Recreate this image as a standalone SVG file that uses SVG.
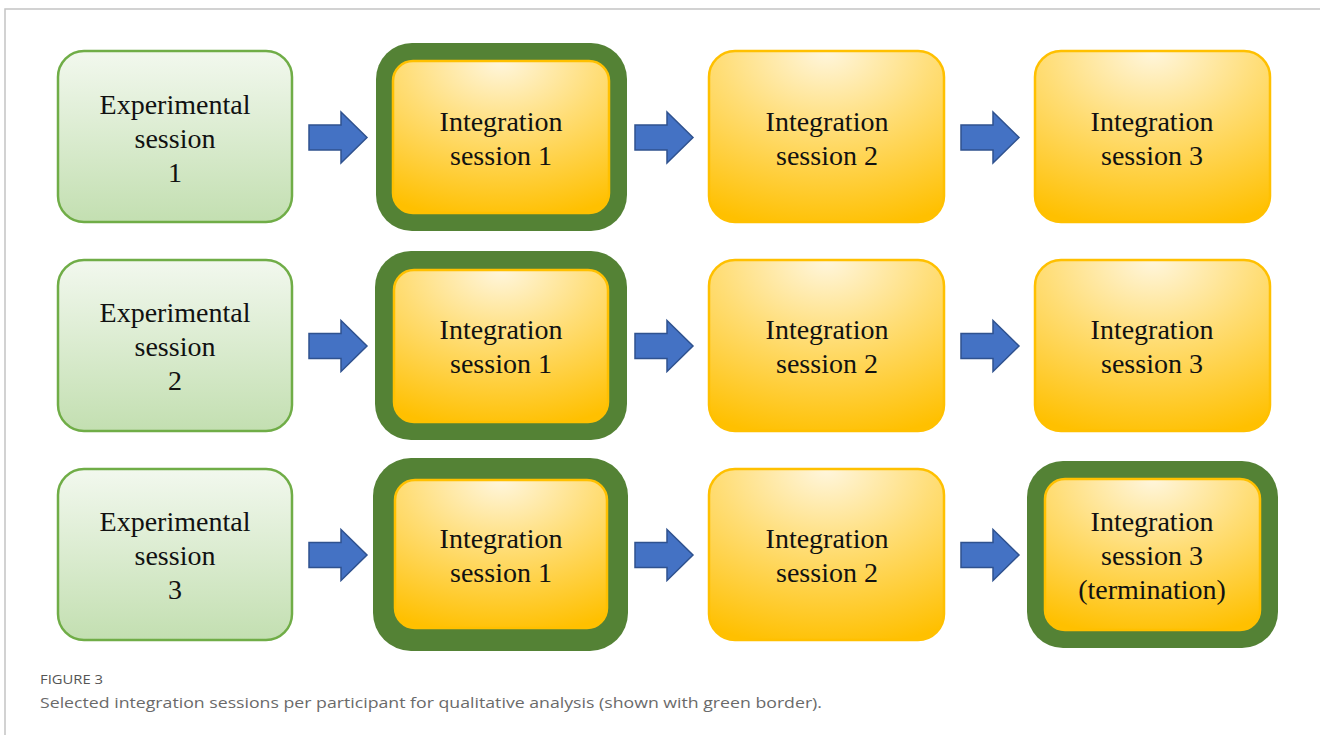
<svg xmlns="http://www.w3.org/2000/svg" width="1320" height="735" viewBox="0 0 1320 735">
<defs>
  <linearGradient id="gGreen" x1="0" y1="0" x2="0" y2="1">
    <stop offset="0" stop-color="#F2F8EE"/>
    <stop offset="1" stop-color="#C3DFB1"/>
  </linearGradient>
  <radialGradient id="gYellow" cx="0.5" cy="0" r="1.05" fx="0.5" fy="0">
    <stop offset="0" stop-color="#FFF6DD"/>
    <stop offset="0.45" stop-color="#FFDD75"/>
    <stop offset="1" stop-color="#FFC000"/>
  </radialGradient>
  <path id="arrow" d="M0,-12.5 H32 V-25.5 L58,0 L32,25.5 V12.5 H0 Z"/>
</defs>
<style>
  .exp { fill: url(#gGreen); stroke: #70AD47; stroke-width: 2.5; }
  .yel { fill: url(#gYellow); stroke: #FFC000; stroke-width: 2.5; }
  .sel { fill: #548235; }
  .lbl { font-family: "Liberation Serif", "Times New Roman", serif; font-size: 28px; fill: #111; text-anchor: middle; }
  .arr { fill: #4472C4; stroke: #2F528F; stroke-width: 1.5; }
  .frame { stroke: #C4C4C4; stroke-width: 1.5; fill: none; }
  .figlbl { font-family: "Open Sans", "Liberation Sans", sans-serif; font-size: 12px; fill: #555; }
  .cap { font-family: "Open Sans", "Liberation Sans", sans-serif; font-size: 15px; fill: #6a6a6a; }
</style>
<rect x="0" y="0" width="1320" height="735" fill="#FFFFFF"/>
<path class="frame" d="M5,735 V9 H1320"/>

<!-- Row 1 -->
<g id="exp1"><rect class="exp" x="58" y="51" width="234" height="171" rx="26"/>
  <text class="lbl" x="175" y="114">Experimental</text><text class="lbl" x="175" y="148">session</text><text class="lbl" x="175" y="182">1</text></g>
<g id="int1_1"><rect class="sel" x="376" y="43" width="251" height="188" rx="36"/>
  <rect class="yel" x="393" y="61" width="216" height="152" rx="20" stroke="none"/>
  <text class="lbl" x="501" y="131">Integration</text><text class="lbl" x="501" y="165">session 1</text></g>
<g id="int1_2"><rect class="yel" x="709" y="51" width="235" height="171" rx="26"/>
  <text class="lbl" x="827" y="131">Integration</text><text class="lbl" x="827" y="165">session 2</text></g>
<g id="int1_3"><rect class="yel" x="1035" y="51" width="235" height="171" rx="26"/>
  <text class="lbl" x="1152" y="131">Integration</text><text class="lbl" x="1152" y="165">session 3</text></g>

<!-- Row 2 -->
<g id="exp2"><rect class="exp" x="58" y="260" width="234" height="171" rx="26"/>
  <text class="lbl" x="175" y="322">Experimental</text><text class="lbl" x="175" y="356">session</text><text class="lbl" x="175" y="390">2</text></g>
<g id="int2_1"><rect class="sel" x="375" y="251" width="252" height="189" rx="36"/>
  <rect class="yel" x="394" y="270" width="214" height="152" rx="20" stroke="none"/>
  <text class="lbl" x="501" y="339">Integration</text><text class="lbl" x="501" y="373">session 1</text></g>
<g id="int2_2"><rect class="yel" x="709" y="260" width="235" height="171" rx="26"/>
  <text class="lbl" x="827" y="339">Integration</text><text class="lbl" x="827" y="373">session 2</text></g>
<g id="int2_3"><rect class="yel" x="1035" y="260" width="235" height="171" rx="26"/>
  <text class="lbl" x="1152" y="339">Integration</text><text class="lbl" x="1152" y="373">session 3</text></g>

<!-- Row 3 -->
<g id="exp3"><rect class="exp" x="58" y="469" width="234" height="171" rx="26"/>
  <text class="lbl" x="175" y="531">Experimental</text><text class="lbl" x="175" y="565">session</text><text class="lbl" x="175" y="599">3</text></g>
<g id="int3_1"><rect class="sel" x="373" y="458" width="255" height="193" rx="38"/>
  <rect class="yel" x="395" y="480" width="212" height="148" rx="20" stroke="none"/>
  <text class="lbl" x="501" y="548">Integration</text><text class="lbl" x="501" y="582">session 1</text></g>
<g id="int3_2"><rect class="yel" x="709" y="469" width="235" height="171" rx="26"/>
  <text class="lbl" x="827" y="548">Integration</text><text class="lbl" x="827" y="582">session 2</text></g>
<g id="int3_3"><rect class="sel" x="1027" y="461" width="251" height="187" rx="36"/>
  <rect class="yel" x="1045" y="479" width="215" height="151" rx="20" stroke="none"/>
  <text class="lbl" x="1152" y="531">Integration</text><text class="lbl" x="1152" y="565">session 3</text><text class="lbl" x="1152" y="599">(termination)</text></g>

<!-- Connectors -->
<g id="connectors">
  <use href="#arrow" class="arr" x="309" y="137.5"/>
  <use href="#arrow" class="arr" x="635" y="137.5"/>
  <use href="#arrow" class="arr" x="961" y="137.5"/>
  <use href="#arrow" class="arr" x="309" y="346"/>
  <use href="#arrow" class="arr" x="635" y="346"/>
  <use href="#arrow" class="arr" x="961" y="346"/>
  <use href="#arrow" class="arr" x="309" y="555"/>
  <use href="#arrow" class="arr" x="635" y="555"/>
  <use href="#arrow" class="arr" x="961" y="555"/>
</g>

<g id="caption">
  <text class="figlbl" x="40" y="684" textLength="63" lengthAdjust="spacingAndGlyphs">FIGURE 3</text>
  <text class="cap" x="40" y="708" textLength="782" lengthAdjust="spacingAndGlyphs">Selected integration sessions per participant for qualitative analysis (shown with green border).</text>
</g>
</svg>
